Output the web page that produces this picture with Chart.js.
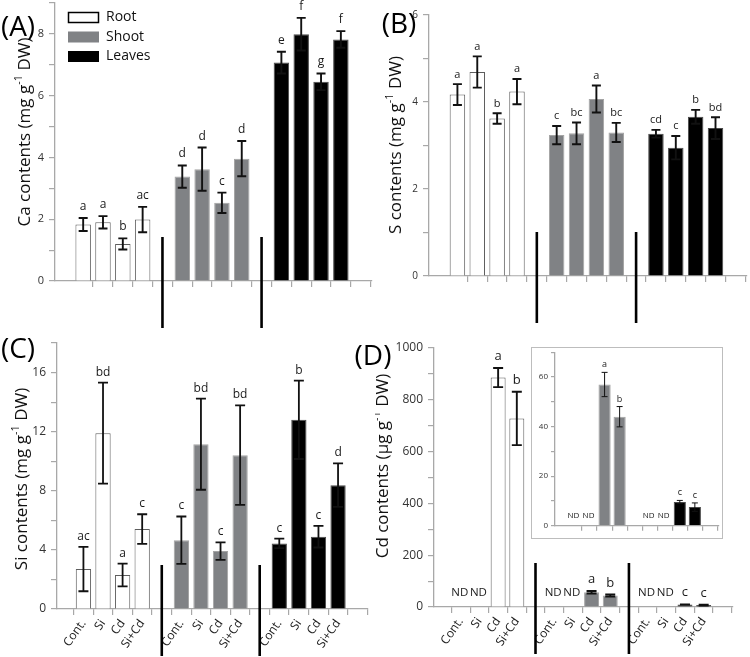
<!DOCTYPE html>
<html>
<head>
<meta charset="utf-8">
<script src="https://cdn.jsdelivr.net/npm/chart.js@4.4.0/dist/chart.umd.min.js"></script>
<style>
  body { margin: 0; background: #fff; font-family: "Open Sans", sans-serif; }
  #fig { position: relative; width: 750px; height: 657px; overflow: hidden; }
  canvas { position: absolute; }
  .tag { position: absolute; font-size: 28px; line-height: 1; color: #000; transform: translate(-50%, -50%); white-space: nowrap; }
  #insetBox { position: absolute; left: 531px; top: 347px; width: 190px; height: 190px; border: 1px solid #bdbdbd; background: #fff; }
  #insetBox canvas { left: 0; top: 0; }
</style>
</head>
<body>
<div id="fig">
  <canvas id="chartA" width="375" height="330" style="left:0;top:0"></canvas>
  <canvas id="chartB" width="375" height="330" style="left:375px;top:0"></canvas>
  <canvas id="chartC" width="375" height="327" style="left:0;top:330px"></canvas>
  <canvas id="chartD" width="375" height="327" style="left:375px;top:330px"></canvas>
  <div id="insetBox"><canvas id="chartInset" width="190" height="190"></canvas></div>
  <div class="tag" style="left:18px;top:25px">(A)</div>
  <div class="tag" style="left:399px;top:22px">(B)</div>
  <div class="tag" style="left:18px;top:347px">(C)</div>
  <div class="tag" style="left:373px;top:354px">(D)</div>
</div>
<script>
const treatments = ['Cont.', 'Si', 'Cd', 'Si+Cd'];
const organs = ['Root', 'Shoot', 'Leaves'];

// order in every array: Root x4, Shoot x4, Leaves x4
// (A) Ca contents, mg g-1 DW
const caValues  = [1.83, 1.90, 1.20, 1.99, 3.38, 3.62, 2.53, 3.96, 7.07, 7.99, 6.45, 7.82];
const caErrors  = [0.21, 0.20, 0.18, 0.41, 0.36, 0.70, 0.33, 0.57, 0.35, 0.53, 0.27, 0.27];
const caLetters = ['a', 'a', 'b', 'ac', 'd', 'd', 'c', 'd', 'e', 'f', 'g', 'f'];
const caTicks   = [0, 2, 4, 6, 8];

// (B) S contents
const sValues  = [4.17, 4.69, 3.62, 4.24, 3.24, 3.28, 4.07, 3.30, 3.27, 2.95, 3.66, 3.40];
const sErrors  = [0.24, 0.36, 0.12, 0.29, 0.21, 0.25, 0.31, 0.22, 0.09, 0.27, 0.16, 0.25];
const sLetters = ['a', 'a', 'b', 'a', 'c', 'bc', 'a', 'bc', 'cd', 'c', 'b', 'bd'];
const sTicks   = [0, 2, 4, 6];

// (C) Si contents
const siValues  = [2.70, 11.90, 2.30, 5.41, 4.66, 11.15, 3.92, 10.41, 4.44, 12.80, 4.89, 8.38];
const siErrors  = [1.50, 3.42, 0.77, 1.00, 1.60, 3.08, 0.59, 3.37, 0.32, 2.65, 0.73, 1.47];
const siLetters = ['ac', 'bd', 'a', 'c', 'c', 'bd', 'c', 'bd', 'c', 'b', 'c', 'd'];
const siTicks   = [0, 4, 8, 12, 16];

// (D) Cd contents, µg g-1 DW (null = not detected)
const cdValues  = [null, null, 886, 728, null, null, 57, 44, null, null, 9.6, 7.5];
const cdErrors  = [0, 0, 37, 103, 0, 0, 4.9, 4.1, 0, 0, 0.6, 1.7];
const cdLetters = ['ND', 'ND', 'a', 'b', 'ND', 'ND', 'a', 'b', 'ND', 'ND', 'c', 'c'];
const cdTicks   = [0, 200, 400, 600, 800, 1000];
const insetTicks = [0, 20, 40, 60];

const fills = ['#ffffff', '#808285', '#000000'];
const edges = ['#5e5e5e', '#a4a4a4', '#4a4a4a'];
const axisGrey = '#a8a8a8';

// slot on the x axis: 4 bars per organ, one empty slot between organs
const slot = i => 1 + Math.floor(i / 4) * 5 + (i % 4);

function makeDatasets(values, firstOrgan, barPct) {
  const groups = values.length / 4;
  const out = [];
  for (let g = 0; g < groups; g++) {
    out.push({
      label: organs[firstOrgan + g],
      data: values.slice(g * 4, g * 4 + 4).map((v, t) => ({ x: slot(g * 4 + t), y: v })),
      backgroundColor: fills[firstOrgan + g],
      borderColor: edges[firstOrgan + g],
      borderWidth: 1,
      grouped: false,
      categoryPercentage: 1,
      barPercentage: barPct
    });
  }
  return out;
}

// error bars, letters, ND marks, dividers, y title, legend
const extras = {
  id: 'extras',
  afterDraw(chart, args, o) {
    const ctx = chart.ctx, xs = chart.scales.x, ys = chart.scales.y;
    const base = ys.getPixelForValue(0);
    ctx.save();
    (o.dividers || []).forEach(v => {
      const px = xs.getPixelForValue(v);
      ctx.strokeStyle = '#000';
      ctx.lineWidth = 2.6;
      ctx.beginPath();
      ctx.moveTo(px, base - 44);
      ctx.lineTo(px, base + 47);
      ctx.stroke();
    });
    o.values.forEach((v, i) => {
      const px = xs.getPixelForValue(slot(i));
      ctx.fillStyle = '#1a1a1a';
      ctx.textAlign = 'center';
      ctx.textBaseline = 'alphabetic';
      if (v === null) {
        ctx.font = o.ndFont;
        ctx.fillText('ND', px - 1, base - o.ndLift);
        return;
      }
      const e = o.errors[i];
      const top = ys.getPixelForValue(v + e), bot = ys.getPixelForValue(v - e);
      ctx.strokeStyle = '#111';
      ctx.lineWidth = o.errWidth;
      ctx.beginPath();
      ctx.moveTo(px, top); ctx.lineTo(px, bot);
      ctx.moveTo(px - o.cap, top); ctx.lineTo(px + o.cap, top);
      ctx.moveTo(px - o.cap, bot); ctx.lineTo(px + o.cap, bot);
      ctx.stroke();
      ctx.font = o.letterFont;
      ctx.fillText(o.letters[i], px, top - o.letterGap);
    });
    if (o.title) {
      const t = o.title;
      ctx.translate(t.x, t.y);
      ctx.rotate(-Math.PI / 2);
      const big = t.size + 'px "Open Sans"', small = Math.round(t.size * 0.62) + 'px "Open Sans"';
      ctx.font = big; const w1 = ctx.measureText(t.parts[0]).width, w3 = ctx.measureText(t.parts[2]).width;
      ctx.font = small; const w2 = ctx.measureText(t.parts[1]).width;
      let x = -(w1 + w2 + w3) / 2;
      ctx.fillStyle = '#111';
      ctx.textAlign = 'left';
      ctx.textBaseline = 'middle';
      ctx.font = big; ctx.fillText(t.parts[0], x, 0); x += w1;
      ctx.font = small; ctx.fillText(t.parts[1], x, -t.size * 0.38); x += w2;
      ctx.font = big; ctx.fillText(t.parts[2], x, 0);
      ctx.setTransform(1, 0, 0, 1, 0, 0);
    }
    if (o.legend) {
      chart.data.datasets.forEach((ds, k) => {
        const y = 17.5 + k * 19.5;
        ctx.fillStyle = ds.backgroundColor;
        ctx.fillRect(68, y - 5.5, 31, 11);
        if (k === 0) {
          ctx.strokeStyle = '#000';
          ctx.lineWidth = 1.5;
          ctx.strokeRect(68.5, y - 5, 30, 10);
        }
        ctx.fillStyle = '#111';
        ctx.font = '14px "Open Sans"';
        ctx.textAlign = 'left';
        ctx.textBaseline = 'middle';
        ctx.fillText(ds.label, 106, y);
      });
    }
    ctx.restore();
  }
};

function panel(id, p) {
  new Chart(document.getElementById(id), {
    type: 'bar',
    data: { datasets: makeDatasets(p.values, p.firstOrgan || 0, p.barPct) },
    options: {
      responsive: false,
      animation: false,
      layout: { padding: { left: 0, top: p.top, right: p.right, bottom: 0 } },
      plugins: {
        legend: { display: false },
        tooltip: { enabled: false },
        extras: p.extras
      },
      scales: {
        x: {
          type: 'linear',
          min: p.xMin,
          max: p.xMax,
          afterBuildTicks: s => { s.ticks = s.ticks.filter(t => t.value >= 1 && Number.isInteger(t.value)); },
          afterFit: s => { s.height = p.xHeight; s.paddingLeft = 0; s.paddingRight = 0; },
          grid: { drawOnChartArea: false, color: axisGrey, tickLength: p.xTickLen || 6, lineWidth: 1.2 },
          border: { color: axisGrey, width: 1.3 },
          ticks: {
            stepSize: 1,
            autoSkip: false,
            minRotation: p.xLabels ? 55 : 0,
            maxRotation: p.xLabels ? 55 : 0,
            padding: 2,
            color: '#222',
            font: { family: 'Open Sans', size: 12 },
            callback: v => (p.xLabels && v % 5 !== 0) ? treatments[(v % 5) - 1] : ''
          }
        },
        y: {
          min: 0,
          max: p.yMax,
          afterFit: s => { s.width = p.yWidth; s.paddingTop = 0; s.paddingBottom = 0; },
          grid: { drawOnChartArea: false, color: axisGrey, tickLength: p.yTickLen || 6, lineWidth: 1.2 },
          border: { color: axisGrey, width: 1.3 },
          ticks: {
            stepSize: p.yStep,
            padding: p.yPad || 5,
            color: '#333',
            font: { family: 'Open Sans', size: p.yFont },
            callback: v => p.yTicks.includes(v) ? v : ''
          }
        }
      }
    },
    plugins: [extras]
  });
}

panel('chartA', {
  values: caValues, barPct: 0.78, xMin: 0.15, xMax: 15, yMax: 9, yStep: 1, yTicks: caTicks,
  yWidth: 55, top: 3, right: 3, xHeight: 49, yFont: 11,
  extras: { values: caValues, errors: caErrors, letters: caLetters, dividers: [5, 10],
    errWidth: 1.9, cap: 4.5, letterFont: '12px "Open Sans"', letterGap: 8, legend: true,
    title: { x: 25, y: 132, size: 17, parts: ['Ca contents (mg g', '-1', ' DW)'] } }
});

panel('chartB', {
  values: sValues, barPct: 0.78, xMin: 0.14, xMax: 15, yMax: 6, yStep: 1, yTicks: sTicks,
  yWidth: 54, top: 15, right: 3.3, xHeight: 54, yFont: 10,
  extras: { values: sValues, errors: sErrors, letters: sLetters, dividers: [5, 10],
    errWidth: 1.9, cap: 4.5, letterFont: '11px "Open Sans"', letterGap: 6.5,
    title: { x: 21, y: 145, size: 17, parts: ['S contents (mg g', '-1', ' DW)'] } }
});

panel('chartC', {
  values: siValues, barPct: 0.78, xMin: 0.18, xMax: 15, yMax: 18, yStep: 2, yTicks: siTicks,
  yWidth: 57, top: 13, right: 7, xHeight: 48, yFont: 12, xLabels: true,
  extras: { values: siValues, errors: siErrors, letters: siLetters, dividers: [5, 10],
    errWidth: 1.8, cap: 5, letterFont: '12px "Open Sans"', letterGap: 7,
    title: { x: 22, y: 149, size: 17, parts: ['Si contents (mg g', '-1', ' DW)'] } }
});

panel('chartD', {
  values: cdValues, barPct: 0.8, xMin: 0.1, xMax: 15, yMax: 1000, yStep: 100, yTicks: cdTicks,
  yWidth: 59, top: 18, right: 17.7, xHeight: 50, yFont: 12, xLabels: true,
  extras: { values: cdValues, errors: cdErrors, letters: cdLetters, dividers: [5, 10],
    errWidth: 1.9, cap: 5, letterFont: '13px "Open Sans"', letterGap: 8,
    ndFont: '11.5px "Open Sans"', ndLift: 11,
    title: { x: 8, y: 136, size: 17, parts: ['Cd contents (µg g', '-1', ' DW)'] } }
});

// inset of (D): shoot and leaves only
const insetValues = cdValues.slice(4), insetErrors = cdErrors.slice(4), insetLetters = cdLetters.slice(4);
panel('chartInset', {
  values: insetValues, firstOrgan: 1, barPct: 0.81, xMin: 0.31, xMax: 10, yMax: 70, yStep: 10, yTicks: insetTicks,
  yWidth: 23, top: 4.3, right: 3, xHeight: 12.3, yFont: 8, yTickLen: 4, xTickLen: 5, yPad: 3,
  extras: { values: insetValues, errors: insetErrors, letters: insetLetters,
    errWidth: 1, cap: 3, letterFont: '9px "Open Sans"', letterGap: 5,
    ndFont: '8px "Open Sans"', ndLift: 7.5 }
});
</script>
</body>
</html>
